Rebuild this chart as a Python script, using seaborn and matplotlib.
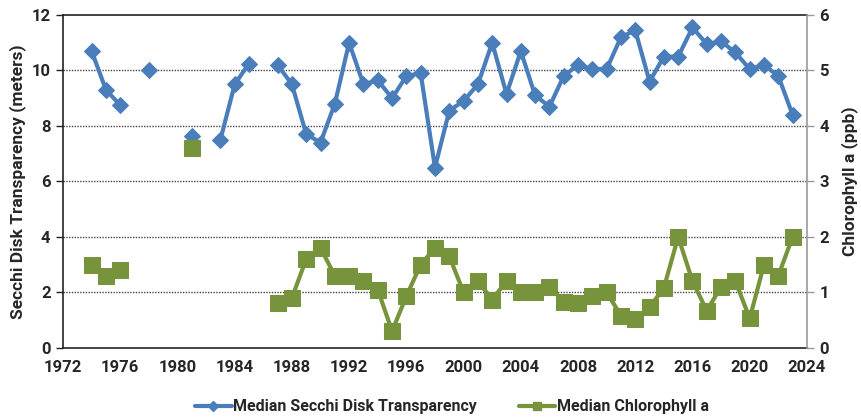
import numpy as np
import pandas as pd
import matplotlib
matplotlib.use("Agg")
import matplotlib.pyplot as plt
import seaborn as sns
from matplotlib.lines import Line2D

years = list(range(1974, 2024))

secchi = [10.7, 9.3, 8.75, np.nan, 10.0, np.nan, np.nan, 7.65, np.nan, 7.5,
          9.5, 10.25, np.nan, 10.2, 9.5, 7.7, 7.4, 8.8, 11.0, 9.5,
          9.65, 9.0, 9.8, 9.9, 6.5, 8.55, 8.9, 9.5, 11.0, 9.15,
          10.7, 9.1, 8.7, 9.8, 10.2, 10.05, 10.05, 11.2, 11.45, 9.6,
          10.5, 10.5, 11.55, 10.95, 11.05, 10.65, 10.05, 10.2, 9.8, 8.4]

chlorophyll = [1.5, 1.3, 1.4, np.nan, np.nan, np.nan, np.nan, 3.6, np.nan, np.nan,
               np.nan, np.nan, np.nan, 0.8, 0.9, 1.6, 1.8, 1.3, 1.3, 1.2,
               1.05, 0.3, 0.93, 1.5, 1.8, 1.65, 1.0, 1.2, 0.87, 1.2,
               1.0, 1.0, 1.1, 0.83, 0.8, 0.93, 1.0, 0.58, 0.51, 0.73,
               1.08, 2.0, 1.2, 0.67, 1.1, 1.2, 0.53, 1.5, 1.3, 2.0]

x_ticks = list(range(1972, 2025, 4))
left_ticks = [0, 2, 4, 6, 8, 10, 12]
right_ticks = [0, 1, 2, 3, 4, 5, 6]

BLUE = "#4a7ebb"
GREEN = "#77933c"


def with_segments(values):
    """Label each unbroken run of observations so gaps stay open."""
    df = pd.DataFrame({"year": years, "value": values})
    df["seg"] = df["value"].isna().cumsum()
    return df.dropna()


sns.set_style("white")
plt.rcParams["font.family"] = ["Roboto", "DejaVu Sans"]
plt.rcParams["font.weight"] = "bold"

fig = plt.figure(figsize=(8.61, 4.17), dpi=100)
ax = fig.add_axes([0.0732, 0.166, 0.864, 0.798])
ax2 = ax.twinx()

sec_df = with_segments(secchi)
chl_df = with_segments(chlorophyll)

sns.lineplot(data=sec_df, x="year", y="value", units="seg", estimator=None,
             color=BLUE, lw=3, marker="D", markersize=8.5,
             markeredgecolor=BLUE, ax=ax, legend=False, zorder=3)
sns.lineplot(data=chl_df, x="year", y="value", units="seg", estimator=None,
             color=GREEN, lw=3, marker="s", markersize=11,
             markeredgecolor=GREEN, ax=ax2, legend=False, zorder=3)

ax.set_xlim(1972, 2024)
ax.set_ylim(0, 12)
ax2.set_ylim(0, 6)
ax.set_xticks(x_ticks)
ax.set_yticks(left_ticks)
ax2.set_yticks(right_ticks)

for v in left_ticks[1:-1]:
    ax.axhline(v, color="#444444", lw=1.0, ls=(0, (1, 1)), zorder=1)

ax.set_xlabel("")
ax.set_ylabel("Secchi Disk Transparency (meters)", fontsize=12.5,
              fontweight="bold", labelpad=4)
ax2.set_ylabel("Chlorophyll a (ppb)", fontsize=12.5, fontweight="bold",
               labelpad=9)

for a in (ax, ax2):
    a.tick_params(axis="both", labelsize=12, direction="out", length=5,
                  width=1, pad=4)
    for lab in a.get_xticklabels() + a.get_yticklabels():
        lab.set_fontweight("bold")
ax.tick_params(axis="x", length=5, color="#222222")
ax.tick_params(axis="y", left=True, color="#222222")
ax2.tick_params(axis="y", right=True, color="#999999")

for name in ("left", "bottom", "top"):
    ax.spines[name].set_color("#222222")
    ax.spines[name].set_linewidth(1.2)
for name in ("left", "bottom", "top"):
    ax2.spines[name].set_visible(False)
ax2.spines["right"].set_color("#999999")
ax2.spines["right"].set_linewidth(1.2)
ax.spines["right"].set_visible(False)

handles = [
    Line2D([], [], color=BLUE, lw=3, marker="D", markersize=5,
           label="Median Secchi Disk Transparency"),
    Line2D([], [], color=GREEN, lw=3, marker="s", markersize=6,
           label="Median Chlorophyll a"),
]
fig.legend(handles=handles, loc="center", bbox_to_anchor=(0.525, 0.024),
           ncol=2, frameon=False, handlelength=2.3,
           handletextpad=0.1, columnspacing=2.6,
           prop={"weight": "bold", "size": 11.5})

fig.savefig("out.png", dpi=100)
